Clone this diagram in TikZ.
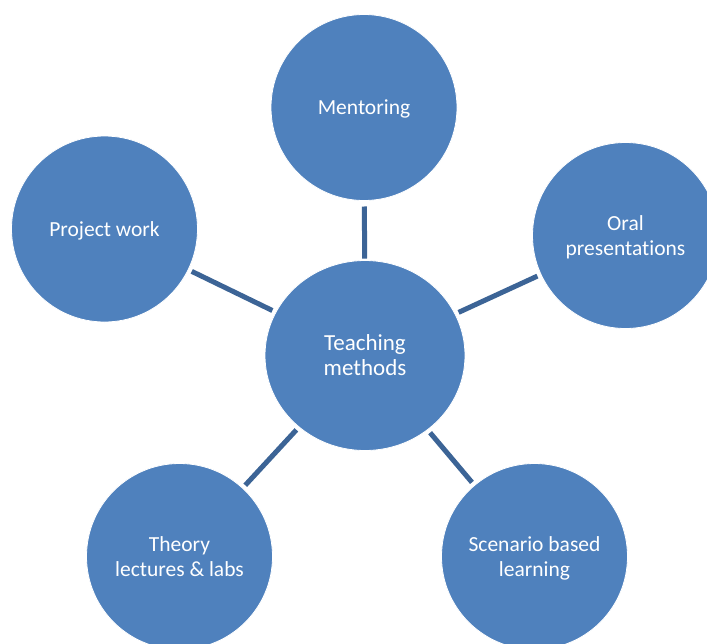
\documentclass[tikz,border=0pt]{standalone}
\usepackage{fontspec}
\setmainfont{Carlito}[Ligatures=NoCommon]
\usetikzlibrary{shapes.geometric}
\definecolor{bubblefill}{HTML}{4F81BD}
\definecolor{linkcol}{RGB}{60,100,150}
\begin{document}
\begin{tikzpicture}[x=1pt,y=-1pt,
  bubble/.style={circle, fill=bubblefill, draw=white, line width=0.8pt, minimum size=186pt, inner sep=0pt, outer sep=0pt, text=white, align=center, text depth=0pt, font=\fontsize{21.5}{25}\selectfont},
  hub/.style={ellipse, fill=bubblefill, draw=white, line width=0.8pt, minimum width=200pt, minimum height=190pt, inner sep=0pt, outer sep=0pt, text=white, align=center, font=\fontsize{23}{25}\selectfont},
  linkline/.style={draw=linkcol, line width=5pt, shorten <=4pt, shorten >=4pt}]
\clip (0,0) rectangle (707,643);
\fill[white] (0,0) rectangle (707,643);
\node[hub] (hub) at (365,355.5) {Teaching\\methods};
\node[bubble] (ment) at (364,107.5) {Mentoring};
\node[bubble] (proj) at (104.5,229) {Project work};
\node[bubble] (oral) at (625.5,235.5) {Oral\\presentations};
\node[bubble] (theo) at (179.5,556.5) {Theory\\lectures \& labs};
\node[bubble] (scen) at (534.5,556.5) {Scenario based\\learning};
\draw[linkline, shorten <=2pt, shorten >=6pt] (hub) -- (ment);
\draw[linkline] (hub) -- (proj);
\draw[linkline] (hub) -- (oral);
\draw[linkline] (hub) -- (theo);
\draw[linkline] (hub) -- (scen);
\end{tikzpicture}
\end{document}
